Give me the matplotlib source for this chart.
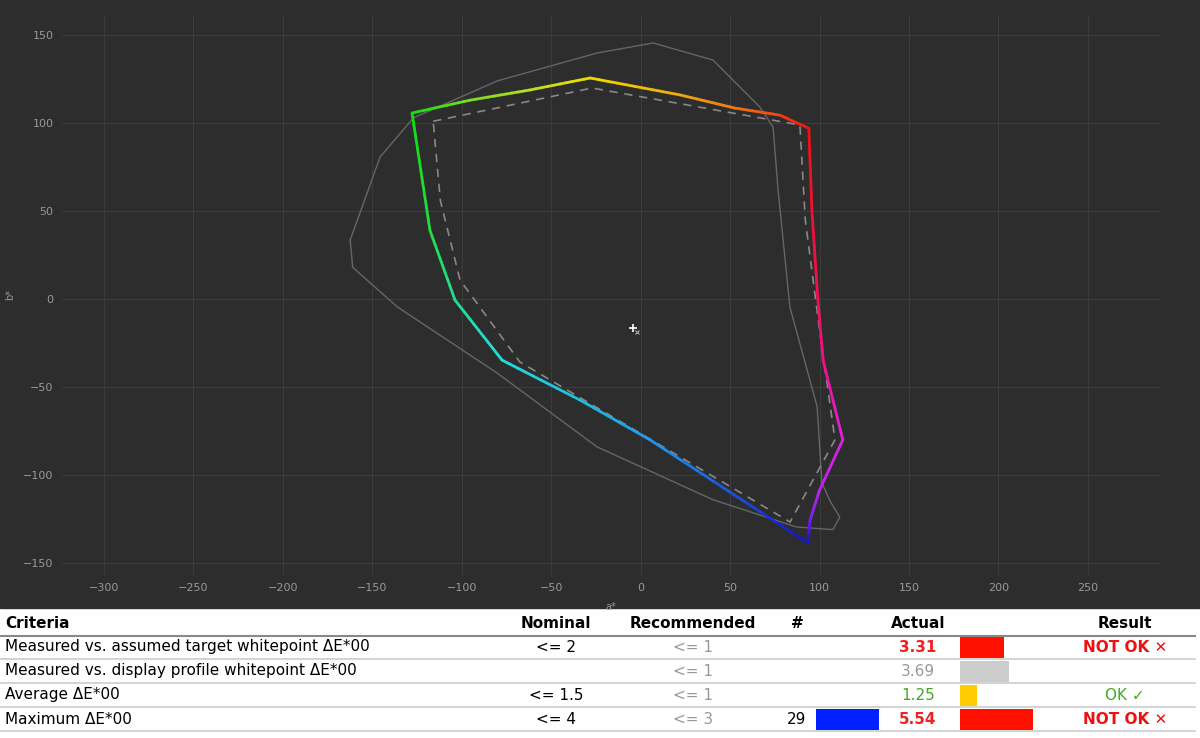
import matplotlib.pyplot as plt
import numpy as np
from matplotlib.collections import LineCollection
from matplotlib.colors import to_rgb

# measured gamut outline (a*, b*) and colour anchors along it
gamut_a = [-127.8, -95.4, -61.9, -28.3, 22.0, 52.7, 77.8, 94.0, 95.7, 99.0, 102.0, 113.0,
           100.0, 94.7, 93.5, 5.2, -33.9, -77.5, -103.8, -117.8, -127.8]
gamut_b = [105.7, 113.0, 118.8, 125.6, 116.0, 108.5, 104.5, 97.0, 50.6, 0.0, -35.0, -80.0,
           -108.5, -125.6, -138.6, -80.0, -57.4, -34.7, -0.6, 39.0, 105.7]
gamut_col = ['#11dd11', '#77dd22', '#bbdd22', '#eedd00', '#eeaa11', '#ee7711', '#ee4411', '#ee1111',
             '#ee1133', '#ee1155', '#ee1188', '#dd22dd', '#bb22ee', '#7722ee', '#1111cc', '#2299ee',
             '#22bbdd', '#22dddd', '#22dd99', '#22dd44', '#11dd11']

# reference gamut (dashed)
ref_a = [-116.0, -27.2, 89.0, 92.0, 100.0, 108.6, 83.5, -67.5, -101.0, -112.0, -116.0]
ref_b = [101.0, 119.9, 98.9, 45.0, -17.6, -80.0, -126.7, -35.8, 10.8, 56.0, 101.0]

# outer visible-range outline
loc_a = [-162.4, -145.7, -127.0, -80.0, -24.4, 7.0, 40.4, 66.7, 74.0, 76.8, 83.4, 98.6, 101.3,
         106.0, 111.3, 107.5, 87.0, 40.4, -24.4, -80.3, -136.0, -161.0, -162.4]
loc_b = [33.5, 80.7, 103.0, 124.0, 139.8, 145.5, 135.8, 109.0, 97.7, 62.0, -4.5, -61.0, -104.5,
         -115.0, -123.9, -131.0, -129.5, -114.0, -84.0, -42.0, -4.5, 18.0, 33.5]

white_a, white_b = -4.3, -16.5

# table
criteria = ['Measured vs. assumed target whitepoint ΔE*00',
            'Measured vs. display profile whitepoint ΔE*00',
            'Average ΔE*00', 'Maximum ΔE*00']
nominal = ['<= 2', '', '<= 1.5', '<= 4']
recommended = ['<= 1', '<= 1', '<= 1', '<= 3']
count = ['', '', '', '29']
actual = [3.31, 3.69, 1.25, 5.54]
actual_col = ['#ee2222', '#999999', '#44aa22', '#ee2222']
bar_col = ['#ff1100', '#cccccc', '#ffcc00', '#ff1100']
result = ['NOT OK ✕', '', 'OK ✓', 'NOT OK ✕']
result_col = ['#ee1111', '', '#44aa22', '#ee1111']

bg = '#2d2d2d'
fig = plt.figure(figsize=(12, 7.38), dpi=100)
fig.patch.set_facecolor('white')
fig.add_artist(plt.Rectangle((0, 130 / 738), 1, 608 / 738, transform=fig.transFigure,
                             color=bg, zorder=0))

ax = fig.add_axes([62 / 1200, 163 / 738, 1098 / 1200, 560 / 738])
ax.set_facecolor(bg)
ax.set_xlim(-323.5, 290.3)
ax.set_ylim(-156.8, 161.4)
ax.set_xticks(np.arange(-300, 251, 50))
ax.set_yticks(np.arange(-150, 151, 50))
ax.grid(color='#3c3c3c', linewidth=0.8)
ax.set_axisbelow(True)
for s in ax.spines.values():
    s.set_visible(False)
ax.tick_params(colors='#999999', labelsize=8, length=0, pad=6)
ax.set_xlabel('a*', color='#999999', fontsize=7, labelpad=6)
ax.set_ylabel('b*', color='#999999', fontsize=7, labelpad=6)

ax.plot(loc_a, loc_b, color='#666666', lw=1)
ax.plot(ref_a, ref_b, color='#888888', lw=1.2, ls=(0, (5, 4)))

pts = np.column_stack([gamut_a, gamut_b])
segs = []
cols = []
for i in range(len(pts) - 1):
    c0, c1 = np.array(to_rgb(gamut_col[i])), np.array(to_rgb(gamut_col[i + 1]))
    for t0 in np.linspace(0, 1, 10, endpoint=False):
        t1 = t0 + 0.1
        segs.append([pts[i] + (pts[i + 1] - pts[i]) * t0, pts[i] + (pts[i + 1] - pts[i]) * t1])
        cols.append(c0 + (c1 - c0) * (t0 + 0.05))
ax.add_collection(LineCollection(segs, colors=cols, linewidths=2, capstyle='round'))
ax.plot([white_a], [white_b], marker='+', color='white', ms=6, mew=1.2)
ax.plot([white_a + 2.3], [white_b - 2.2], marker='x', color='#aaaaaa', ms=3, mew=0.8)

# table area in pixel coordinates
tx = fig.add_axes([0, 0, 1, 130 / 738])
tx.set_xlim(0, 1200)
tx.set_ylim(738, 608)
tx.axis('off')
fs = 11
hy = 623
tx.text(5, hy, 'Criteria', fontsize=fs, fontweight='bold', va='center')
for x, h in [(556, 'Nominal'), (693, 'Recommended'), (797, '#'), (918, 'Actual'), (1125, 'Result')]:
    tx.text(x, hy, h, fontsize=fs, fontweight='bold', va='center', ha='center')
tx.plot([0, 1195], [636, 636], color='#888888', lw=1.5)
rows_y = [647, 671, 695, 719]
for i, y in enumerate(rows_y):
    tx.text(5, y, criteria[i], fontsize=fs, va='center')
    tx.text(556, y, nominal[i], fontsize=fs, va='center', ha='center')
    tx.text(693, y, recommended[i], fontsize=fs, va='center', ha='center', color='#999999')
    tx.text(918, y, f'{actual[i]:.2f}', fontsize=fs, va='center', ha='center', color=actual_col[i],
            fontweight='bold' if actual_col[i] == '#ee2222' else 'normal')
    tx.barh(y, actual[i] * 13.2, left=960, height=21, color=bar_col[i])
    if count[i]:
        tx.text(797, y, count[i], fontsize=fs, va='center', ha='center')
        tx.barh(y, 63, left=816, height=21, color='#0022ff')
    if result[i]:
        tx.text(1125, y, result[i], fontsize=fs, va='center', ha='center', color=result_col[i],
                fontweight='bold' if 'NOT' in result[i] else 'normal')
    tx.plot([0, 1195], [y + 12, y + 12], color='#cccccc', lw=1.2)

fig.savefig('out.png', dpi=100, facecolor=fig.get_facecolor())
